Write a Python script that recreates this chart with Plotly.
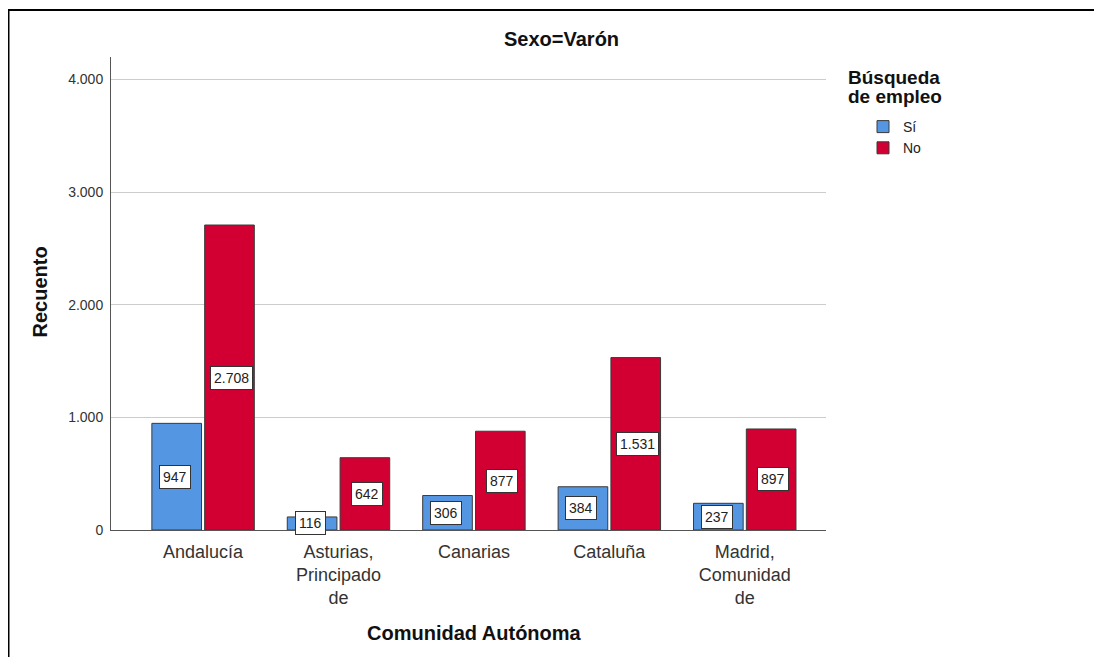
import plotly.graph_objects as go

categorias = ["Andalucía", "Asturias,<br>Principado<br>de", "Canarias", "Cataluña", "Madrid,<br>Comunidad<br>de"]
si_vals = [947, 116, 306, 384, 237]
no_vals = [2708, 642, 877, 1531, 897]
y_ticks = [0, 1000, 2000, 3000, 4000]
y_tick_labels = ["0", "1.000", "2.000", "3.000", "4.000"]

def fmt(v):
    return f"{v:,}".replace(",", ".")

COL_SI = "#5596E3"
COL_NO = "#D20032"
FONT = "Liberation Sans, Arial, sans-serif"

# plot area in figure px: x 103..818, y 49..522
PL, PW, PT, PH = 103, 715, 49, 473
def px(x):
    return (x - PL) / PW
def py(y):
    return (PT + PH - y) / PH

fig = go.Figure()
fig.add_trace(go.Bar(name="Sí", x=categorias, y=si_vals, marker=dict(color=COL_SI, line=dict(color="#3a3a3a", width=1))))
fig.add_trace(go.Bar(name="No", x=categorias, y=no_vals, marker=dict(color=COL_NO, line=dict(color="#3a3a3a", width=1))))

annotations = []
for cat, s, n in zip(categorias, si_vals, no_vals):
    for v, shift in ((s, -28), (n, 28)):
        annotations.append(dict(x=cat, y=v / 2, xref="x", yref="y", text=fmt(v), showarrow=False,
                                xshift=shift, bgcolor="white", bordercolor="#333333", borderwidth=1,
                                borderpad=3, font=dict(family=FONT, size=14, color="#222222")))

# panel title
annotations.append(dict(x=px(553), y=py(31), xref="paper", yref="paper", text="<b>Sexo=Varón</b>",
                        showarrow=False, xanchor="center", yanchor="middle",
                        font=dict(family=FONT, size=20, color="#111111")))
# axis titles
annotations.append(dict(x=px(31.5), y=py(284), xref="paper", yref="paper", text="<b>Recuento</b>",
                        showarrow=False, textangle=-90, xanchor="center", yanchor="middle",
                        font=dict(family=FONT, size=20, color="#111111")))
annotations.append(dict(x=px(466), y=py(625), xref="paper", yref="paper", text="<b>Comunidad Autónoma</b>",
                        showarrow=False, xanchor="center", yanchor="middle",
                        font=dict(family=FONT, size=20, color="#111111")))
# legend title (two lines)
annotations.append(dict(x=px(838), y=py(70), xref="paper", yref="paper", text="<b>Búsqueda</b>",
                        showarrow=False, xanchor="left", yanchor="middle",
                        font=dict(family=FONT, size=19, color="#111111")))
annotations.append(dict(x=px(838), y=py(89), xref="paper", yref="paper", text="<b>de empleo</b>",
                        showarrow=False, xanchor="left", yanchor="middle",
                        font=dict(family=FONT, size=19, color="#111111")))

fig.update_layout(
    width=1102, height=657,
    margin=dict(l=PL, r=1102 - PL - PW, t=PT, b=657 - PT - PH),
    paper_bgcolor="white", plot_bgcolor="white",
    barmode="group", bargap=0.22, bargroupgap=0.06,
    font=dict(family=FONT, color="#222222"),
    showlegend=True,
    legend=dict(x=px(855), y=py(103), xanchor="left", yanchor="top",
                font=dict(family=FONT, size=14, color="#222222"), itemwidth=30, tracegroupgap=0),
    annotations=annotations,
    xaxis=dict(range=[-0.68, 4.6], showline=True, linecolor="#555555", linewidth=1, ticks="",
               tickfont=dict(family=FONT, size=18, color="#333333"), ticklabelstandoff=5,
               fixedrange=True),
    yaxis=dict(range=[0, 4200], tickvals=y_ticks, ticktext=y_tick_labels, showline=True, linecolor="#555555",
               linewidth=1, showgrid=True, gridcolor="#cccccc", gridwidth=1, zeroline=False, ticks="",
               tickfont=dict(family=FONT, size=14, color="#333333"), ticklabelstandoff=4),
    shapes=[dict(type="rect", xref="paper", yref="paper", x0=px(0.5), x1=1.6,
                 y0=-0.5, y1=py(2), line=dict(color="black", width=2), layer="above")],
)

fig.write_html("out.html")
